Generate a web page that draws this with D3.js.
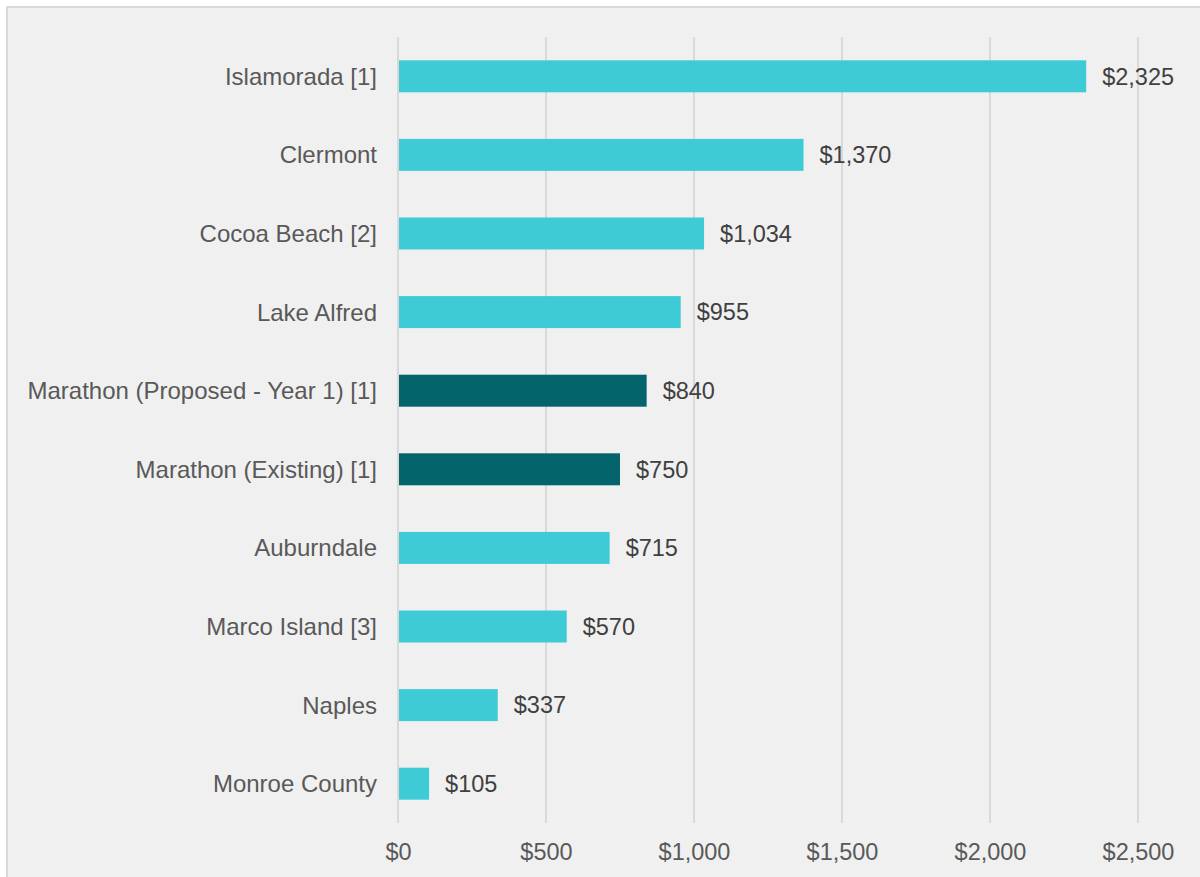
<!DOCTYPE html>
<html>
<head>
<meta charset="utf-8">
<script src="https://cdn.jsdelivr.net/npm/d3@7"></script>
<style>
  html, body { margin: 0; padding: 0; background: #ffffff; }
  svg { display: block; }
</style>
</head>
<body>
<svg id="chart" width="1200" height="877"></svg>
<script>
const categories = [
  "Islamorada [1]",
  "Clermont",
  "Cocoa Beach [2]",
  "Lake Alfred",
  "Marathon (Proposed - Year 1) [1]",
  "Marathon (Existing) [1]",
  "Auburndale",
  "Marco Island [3]",
  "Naples",
  "Monroe County"
];
const values = [2325, 1370, 1034, 955, 840, 750, 715, 570, 337, 105];
const highlighted = [false, false, false, false, true, true, false, false, false, false];
const tickValues = [0, 500, 1000, 1500, 2000, 2500];

const svg = d3.select("#chart");
const W = 1200, H = 877;
const font = "Arial, 'Liberation Sans', sans-serif";

// chart frame
svg.append("rect").attr("x", 7).attr("y", 7).attr("width", W + 10).attr("height", H + 10)
  .attr("fill", "#f0f0f0").attr("stroke", "#d9d9d9").attr("stroke-width", 2);

const x = d3.scaleLinear().domain([0, 2500]).range([398, 1138]);
const y = d3.scaleBand().domain(categories).range([37, 823])
  .paddingInner(0.593).paddingOuter(0.2965);

// gridlines
svg.append("g").selectAll("line").data(tickValues).join("line")
  .attr("x1", d => x(d)).attr("x2", d => x(d))
  .attr("y1", 37).attr("y2", 823)
  .attr("stroke", "#d9d9d9").attr("stroke-width", 2);

// bars
svg.append("g").selectAll("rect").data(values).join("rect")
  .attr("x", x(0) + 1)
  .attr("y", (d, i) => y(categories[i]))
  .attr("width", d => x(d) - x(0) - 1)
  .attr("height", y.bandwidth())
  .attr("fill", (d, i) => highlighted[i] ? "#03646b" : "#3ecbd6");

// value labels
svg.append("g").selectAll("text").data(values).join("text")
  .attr("x", d => x(d) + 16)
  .attr("y", (d, i) => y(categories[i]) + y.bandwidth() / 2)
  .attr("dy", "0.35em")
  .attr("font-family", font).attr("font-size", 23.5)
  .attr("fill", "#404040")
  .text(d => "$" + d3.format(",")(d));

// category labels
svg.append("g").selectAll("text").data(categories).join("text")
  .attr("x", 377)
  .attr("y", d => y(d) + y.bandwidth() / 2)
  .attr("dy", "0.35em")
  .attr("text-anchor", "end")
  .attr("font-family", font).attr("font-size", 24)
  .attr("fill", "#595959")
  .text(d => d);

// x axis tick labels
const xAxis = d3.axisBottom(x).tickValues(tickValues)
  .tickFormat(d => "$" + d3.format(",")(d)).tickSize(0).tickPadding(0);
const gx = svg.append("g").attr("transform", "translate(0,852)").call(xAxis);
gx.select(".domain").remove();
gx.selectAll("text")
  .attr("font-family", font).attr("font-size", 23.5)
  .attr("fill", "#595959").attr("dy", "0.35em").attr("y", 0);
</script>
</body>
</html>
